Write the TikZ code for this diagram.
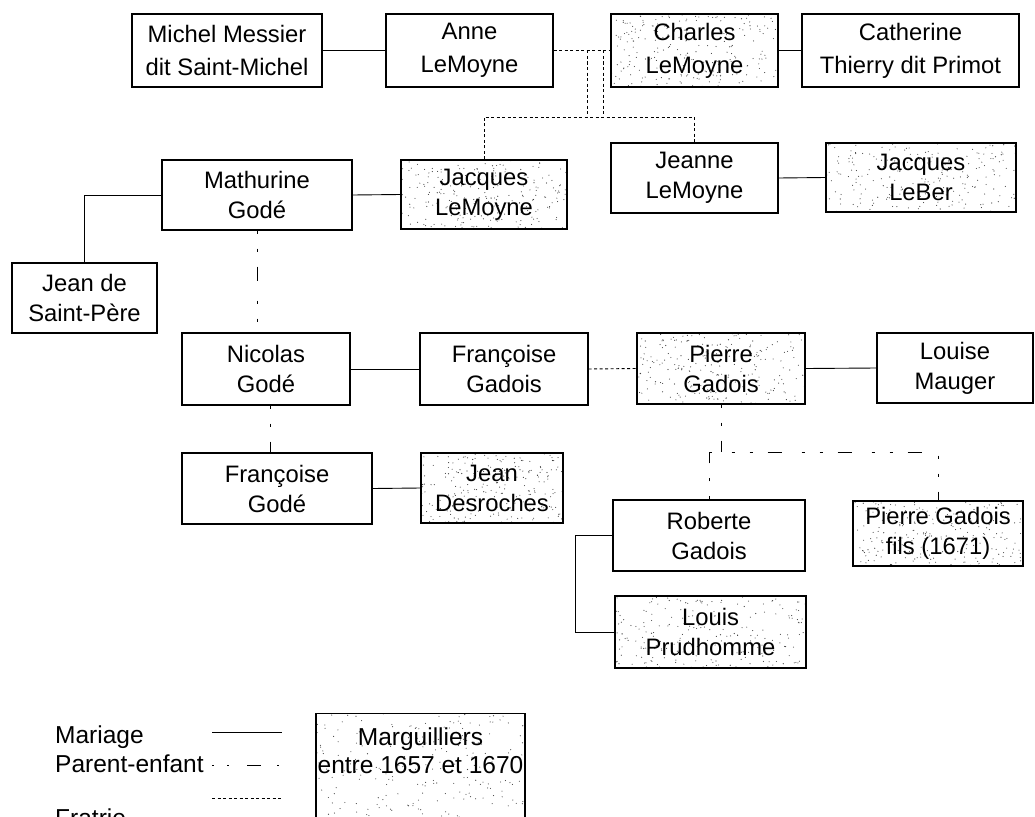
\documentclass[tikz,border=0pt]{standalone}
\usepackage{fontspec}
\setmainfont{Liberation Sans}
\usetikzlibrary{calc}

\tikzset{
  person/.style={draw, line width=1.1pt, rectangle, inner sep=0pt, align=center,
    font=\fontsize{23.8}{30}\selectfont},
  wide/.style={font=\fontsize{23.8}{33}\selectfont},
  % speckled fill of the churchwarden boxes
  stipple/.style={path picture={
    \foreach \k in {1,...,#1}{
      \pgfmathsetmacro\fx{rnd}\pgfmathsetmacro\fy{rnd}
      \fill[black!75] let \p1=(path picture bounding box.south west),
                          \p2=(path picture bounding box.north east) in
        ({\x1+\fx*(\x2-\x1)},{\y1+\fy*(\y2-\y1)}) circle[radius=0.55pt];
    }}},
  marg/.style={person, stipple=230},
  marr/.style={line width=0.9pt},
  sib/.style={line width=0.9pt, dash pattern=on 3pt off 2.5pt},
  par/.style={line width=1pt, dash pattern=on 3pt off 15pt on 3pt off 15pt on 14pt off 20pt},
  legpar/.style={line width=1pt, dash pattern=on 2pt off 13pt on 2pt off 18pt on 14pt off 16pt},
  legtext/.style={inner sep=0pt, font=\fontsize{24.5}{28}\selectfont},
}

\begin{document}
\begin{tikzpicture}[x=1pt,y=-1pt]
\pgfmathsetseed{7}
\useasboundingbox (0,0) rectangle (1035,816);
\clip (0,0) rectangle (1035,816);
\fill[white] (0,0) rectangle (1035,816);

% first generation
\node[person, wide, minimum width=190pt, minimum height=73pt] (michel) at (227,50.5) {Michel Messier\\dit Saint-Michel};
\node[person, wide, minimum width=167pt, minimum height=73pt] (anne) at (469.5,50.5) {Anne\\LeMoyne};
\node[marg, wide, minimum width=167pt, minimum height=73pt] (charles) at (694.5,50.5) {Charles\\LeMoyne};
\node[person, wide, minimum width=217pt, minimum height=73pt] (catherine) at (910.5,50.5) {Catherine\\Thierry dit Primot};

% second generation
\node[person, minimum width=190pt, minimum height=70pt] (mathurine) at (257,195) {Mathurine\\Godé};
\node[marg, minimum width=166pt, minimum height=69pt] (jacqLM) at (484,194.5) {Jacques\\LeMoyne};
\node[person, minimum width=167pt, minimum height=70pt] (jeanne) at (694.5,178) {Jeanne\\LeMoyne};
\node[marg, minimum width=190pt, minimum height=69pt] (leber) at (921,177.5) {Jacques\\LeBer};
\node[person, minimum width=145pt, minimum height=70pt] (jeandsp) at (84.5,298) {Jean de\\Saint-Père};

% third generation
\node[person, minimum width=168pt, minimum height=72pt] (nicolas) at (266,369) {Nicolas\\Godé};
\node[person, minimum width=168pt, minimum height=72pt] (fgadois) at (504,369) {Françoise\\Gadois};
\node[marg, minimum width=168pt, minimum height=71pt] (pierre) at (721,368.5) {Pierre\\Gadois};
\node[person, minimum width=156pt, minimum height=70pt] (louise) at (955,368) {Louise\\Mauger};

% fourth generation
\node[person, minimum width=190pt, minimum height=71pt] (fgode) at (277,488.5) {Françoise\\Godé};
\node[marg, minimum width=142pt, minimum height=70pt] (desroches) at (492,488) {Jean\\Desroches};
\node[person, minimum width=192pt, minimum height=71pt] (roberte) at (709,535.5) {Roberte\\Gadois};
\node[marg, minimum width=170pt, minimum height=65pt] (pfils) at (938,533.5) {Pierre Gadois\\fils (1671)};
\node[marg, minimum width=191pt, minimum height=72pt] (louis) at (710.5,632) {Louis\\Prudhomme};

% marriages
\draw[marr] (michel.east) -- (anne.west);
\draw[marr] (charles.east) -- (catherine.west);
\draw[marr] (mathurine.east) -- (jacqLM.west);
\draw[marr] (jeanne.east) -- (leber.west);
\draw[marr] (mathurine.west) -| (jeandsp.north);
\draw[marr] (nicolas.east) -- (fgadois.west);
\draw[marr] (pierre.east) -- (louise.west);
\draw[marr] (fgode.east) -- (desroches.west);
\coordinate (rl) at (575,0);
\draw[marr] (roberte.west) -- (roberte.west -| rl) |- (louis.west);

% siblings
\coordinate (s1) at (587,117);
\coordinate (s2) at (603,117);
\draw[sib] (anne.east) -- (charles.west);
\draw[sib] (s1 |- anne.east) -- (s1);
\draw[sib] (s2 |- anne.east) -- (s2);
\draw[sib] (jacqLM.north) |- (jeanne.north |- s1) -- (jeanne.north);
\draw[sib] (fgadois.east) -- (pierre.west);

% parent and child
\draw[par] (mathurine.south) -- (mathurine.south |- nicolas.north);
\coordinate (pc) at (270,0);
\draw[par] (pc |- nicolas.south) -- (pc |- fgode.north);
\coordinate (j) at (0,452);
\draw[par] (pierre.south) -- (pierre.south |- j);
\draw[par] (roberte.north) |- (pfils.north |- j) -- (pfils.north);

% legend
\node[legtext, anchor=base west] (lmar) at (55,743) {Mariage};
\node[legtext, anchor=base west] (lpar) at (55,772) {Parent-enfant};
\node[legtext, anchor=base west] (lfra) at (55,826) {Fratrie};
\coordinate (la1) at (212,732); \coordinate (la2) at (282,732);
\coordinate (lb1) at (212,765); \coordinate (lb2) at (282,765);
\coordinate (lc1) at (212,798); \coordinate (lc2) at (282,798);
\draw[marr] (la1) -- (la2);
\draw[legpar] (lb1) -- (lb2);
\draw[sib] (lc1) -- (lc2);
\node[person, stipple=330, minimum width=209pt, minimum height=150pt, anchor=north] (legbox) at (420.5,713) {};
\node[legtext, align=center, anchor=north] (legtxt) at (420.5,728) {Marguilliers\\entre 1657 et 1670};
\end{tikzpicture}
\end{document}
